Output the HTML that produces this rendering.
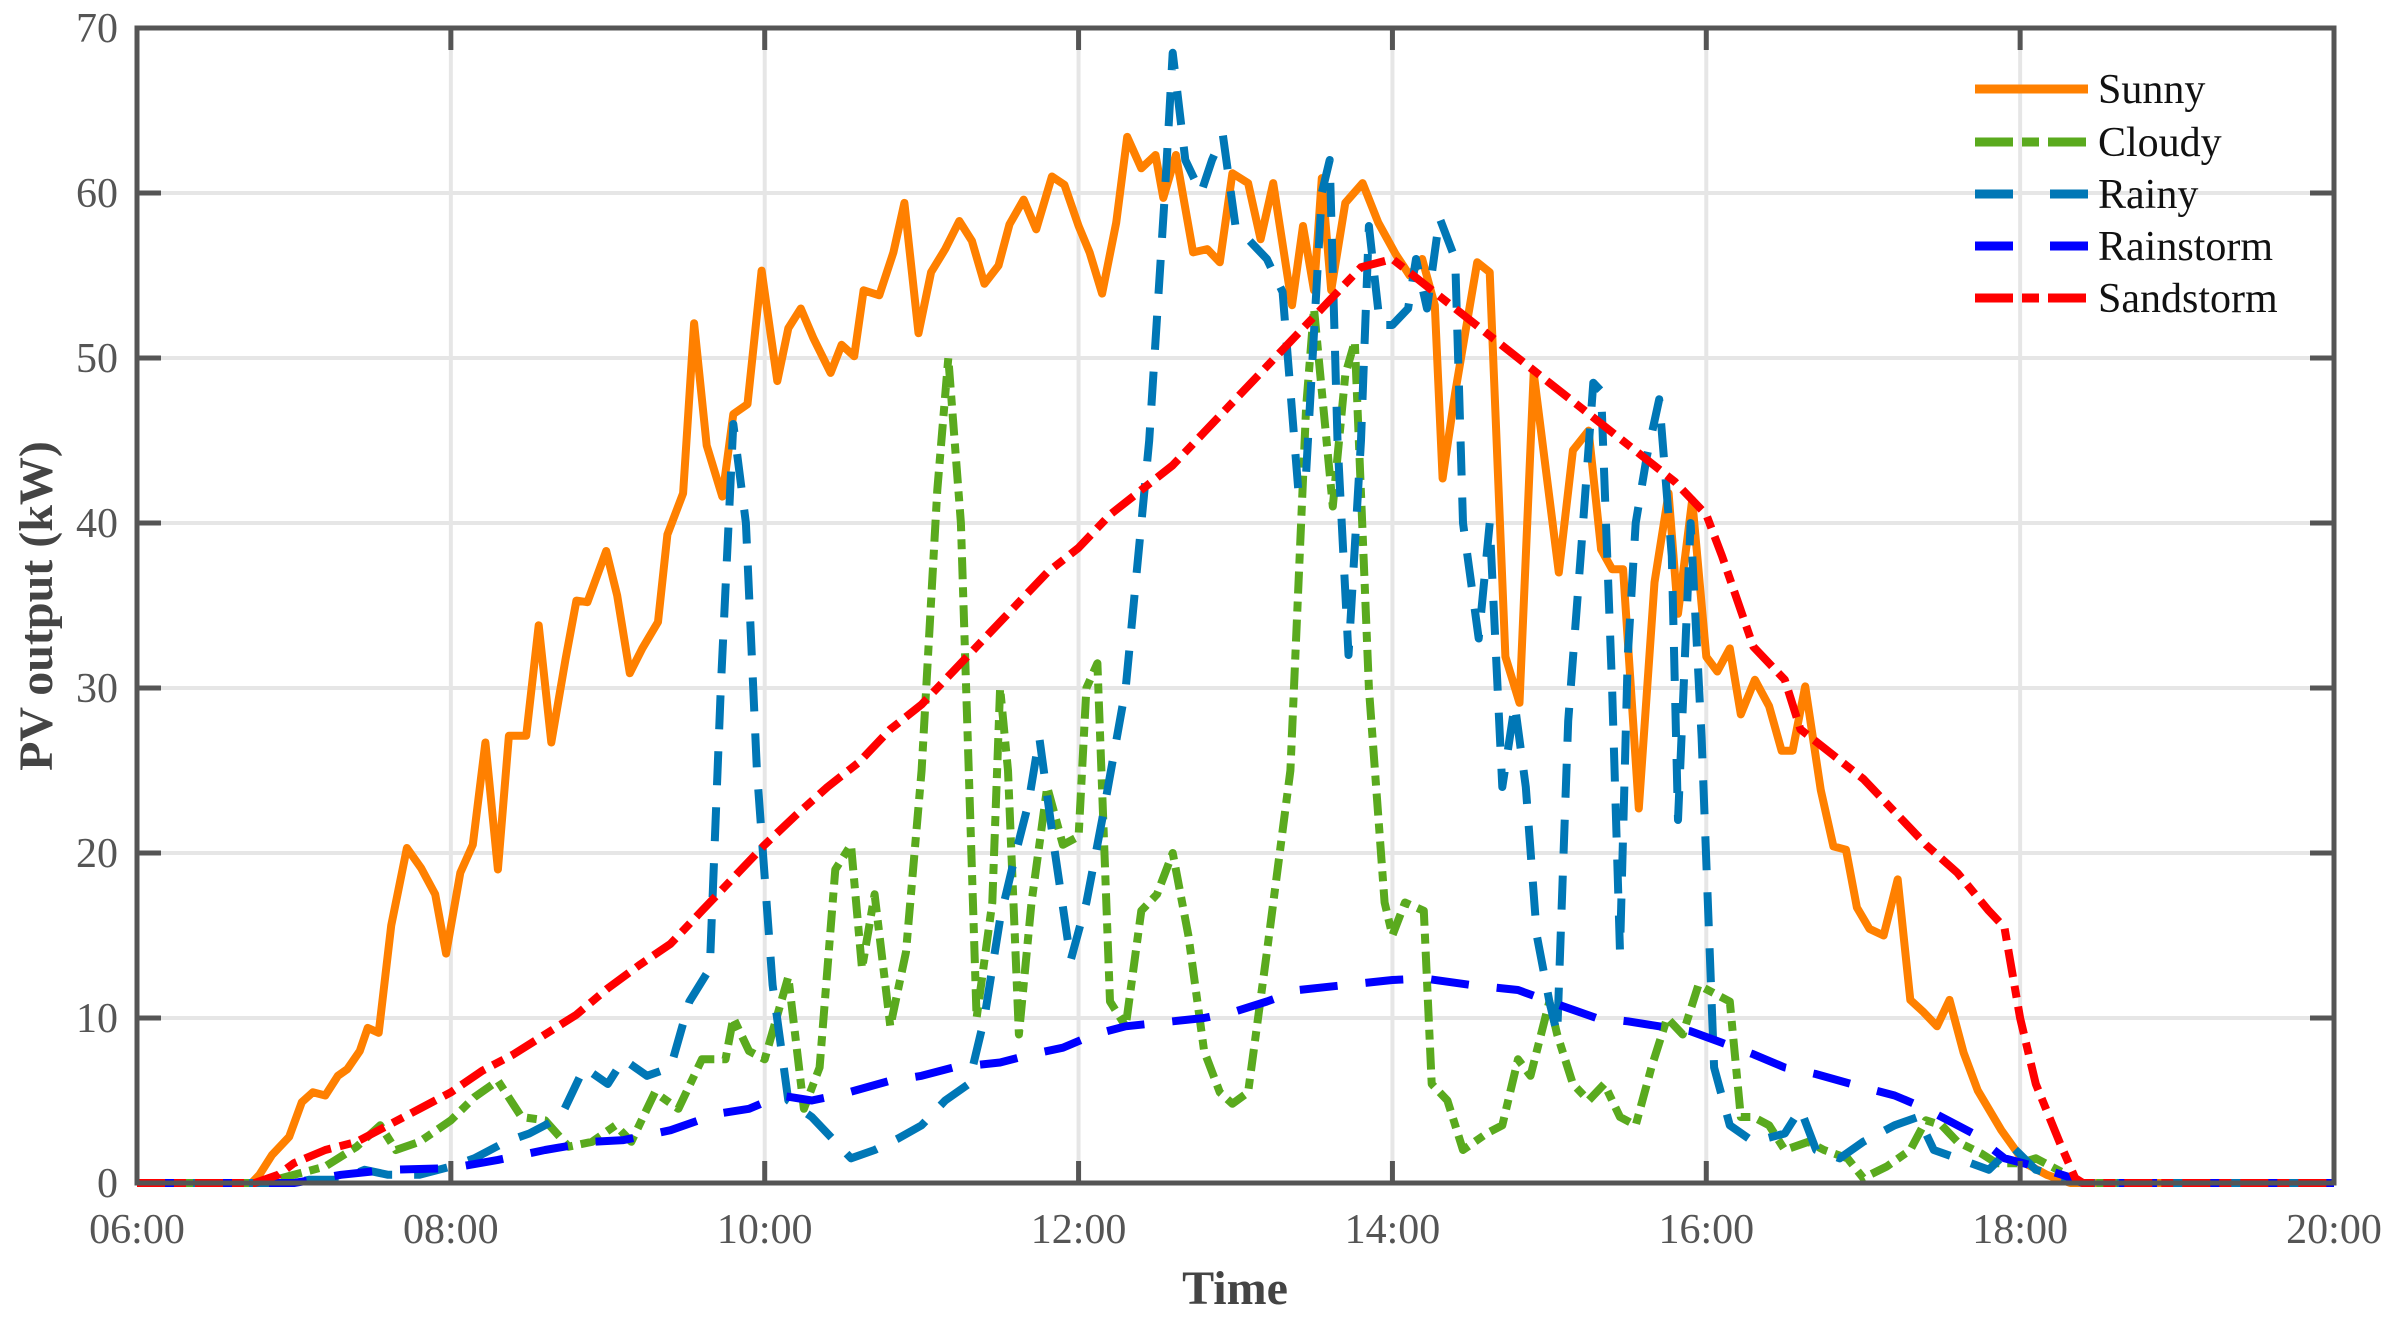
<!DOCTYPE html>
<html><head><meta charset="utf-8"><style>
html,body{margin:0;padding:0;background:#fff;}
svg{display:block;font-family:"Liberation Serif",serif;}
</style></head><body>
<svg id="chart" width="2395" height="1318" viewBox="0 0 2395 1318" xmlns="http://www.w3.org/2000/svg">
<g id="grid"></g>
<g id="series"></g>
<g id="axes"></g>
<text x="0" y="0" transform="translate(52,606) rotate(-90)" text-anchor="middle" font-size="48" font-weight="bold" fill="#444">PV output (kW)</text>
<text x="1235" y="1304" text-anchor="middle" font-size="48" font-weight="bold" fill="#444">Time</text>
<g id="legend"></g>
</svg>
<script>
const xTicks=[6,8,10,12,14,16,18,20];
const xTickLabels=["06:00","08:00","10:00","12:00","14:00","16:00","18:00","20:00"];
const yTicks=[0,10,20,30,40,50,60,70];
const seriesNames=["Sunny","Cloudy","Rainy","Rainstorm","Sandstorm"];
const sunnyT=[6,6.73,6.78,6.86,6.97,7.05,7.12,7.2,7.28,7.34,7.42,7.47,7.54,7.62,7.72,7.81,7.9,7.97,8.06,8.14,8.22,8.3,8.37,8.48,8.56,8.64,8.73,8.8,8.87,8.99,9.06,9.14,9.22,9.32,9.38,9.48,9.55,9.63,9.73,9.8,9.89,9.98,10.08,10.15,10.23,10.31,10.42,10.49,10.57,10.63,10.73,10.82,10.89,10.98,11.06,11.15,11.24,11.32,11.4,11.49,11.56,11.65,11.73,11.83,11.91,12.0,12.07,12.15,12.24,12.31,12.4,12.49,12.54,12.62,12.73,12.82,12.9,12.98,13.08,13.16,13.24,13.3,13.36,13.43,13.5,13.55,13.61,13.7,13.81,13.91,14.02,14.11,14.19,14.27,14.32,14.4,14.46,14.54,14.62,14.72,14.81,14.9,15.06,15.15,15.25,15.33,15.4,15.47,15.57,15.67,15.76,15.82,15.91,16.0,16.07,16.15,16.22,16.31,16.4,16.48,16.55,16.63,16.73,16.81,16.89,16.96,17.04,17.13,17.22,17.3,17.38,17.47,17.55,17.64,17.73,17.88,18.03,18.17,18.32,20];
const sunnyV=[0,0,0.5,1.7,2.8,4.9,5.5,5.3,6.5,6.9,8.0,9.4,9.1,15.6,20.3,19.1,17.5,13.9,18.8,20.5,26.7,19,27.1,27.1,33.8,26.7,31.7,35.3,35.2,38.3,35.6,30.9,32.4,34.0,39.3,41.8,52.1,44.7,41.6,46.6,47.2,55.3,48.6,51.8,53.0,51.2,49.1,50.8,50.1,54.1,53.8,56.4,59.4,51.5,55.2,56.6,58.3,57.1,54.5,55.6,58.1,59.6,57.8,61.0,60.5,58.0,56.4,53.9,58.2,63.4,61.5,62.3,59.7,62.3,56.4,56.6,55.8,61.2,60.6,57.2,60.6,56.9,53.2,58.0,54.1,60.9,54.1,59.4,60.6,58.2,56.3,55.0,56.0,53.2,42.7,47.9,51.3,55.8,55.2,31.9,29.1,49.1,37.0,44.4,45.6,38.4,37.2,37.2,22.7,36.4,41.8,34.5,41.4,31.9,31.0,32.4,28.4,30.5,28.9,26.2,26.2,30.1,23.8,20.4,20.2,16.7,15.4,15.0,18.4,11.1,10.4,9.5,11.1,7.9,5.6,3.2,1.2,0.5,0,0];
const cloudyT=[6,6.8,7.0,7.2,7.4,7.55,7.65,7.8,8.0,8.15,8.3,8.45,8.6,8.75,8.9,9.05,9.15,9.3,9.45,9.6,9.75,9.8,9.9,10.0,10.15,10.25,10.35,10.45,10.55,10.62,10.7,10.8,10.9,11.0,11.1,11.17,11.25,11.35,11.45,11.5,11.55,11.62,11.7,11.8,11.9,12.0,12.05,12.12,12.2,12.3,12.4,12.5,12.6,12.7,12.8,12.9,12.98,13.08,13.2,13.35,13.45,13.5,13.55,13.62,13.7,13.76,13.85,13.95,14.0,14.08,14.2,14.25,14.35,14.45,14.6,14.7,14.8,14.88,15.0,15.05,15.15,15.25,15.35,15.45,15.55,15.65,15.75,15.85,15.95,16.05,16.15,16.22,16.3,16.4,16.5,16.65,16.75,16.9,17.0,17.15,17.3,17.4,17.5,17.6,17.75,17.85,18.0,18.1,18.3,18.4,20];
const cloudyV=[0,0,0.5,1.0,2.2,3.5,2.0,2.5,3.8,5.2,6.2,4,3.8,2.2,2.5,3.5,2.5,5.5,4.5,7.5,7.5,10,8,7.5,12.5,4.5,7,19,20.5,13,17.5,9.5,14,25,42,50,40,10,17,30,25,9,17,24,20.5,21,30,31.5,11,9.5,16.5,17.5,20,15,8,5.5,4.8,5.5,14,25,47,53,48,41,49,51,30,17,15,17,16.5,6,5,2,3,3.5,7.5,6.5,11,9,6,5,6,4,3.5,7,10,9,12,11.5,11,4,4,3.5,2.0,2.5,2,1.5,0.3,1.0,2,3.8,3.5,2.5,1.8,1.2,1.2,1.5,0.5,0,0];
const rainyT=[6,7.0,7.1,7.3,7.45,7.6,7.8,8.0,8.15,8.35,8.5,8.7,8.85,9.0,9.1,9.25,9.4,9.52,9.65,9.72,9.8,9.88,9.95,10.05,10.15,10.3,10.45,10.55,10.7,10.85,11.0,11.15,11.3,11.4,11.5,11.6,11.68,11.75,11.85,11.95,12.05,12.15,12.3,12.45,12.55,12.6,12.68,12.78,12.85,12.92,13.0,13.1,13.2,13.3,13.4,13.45,13.55,13.6,13.65,13.72,13.8,13.85,13.92,14.0,14.1,14.15,14.22,14.3,14.4,14.45,14.55,14.62,14.7,14.78,14.85,14.92,15.0,15.05,15.12,15.2,15.28,15.33,15.4,15.45,15.5,15.55,15.62,15.7,15.78,15.82,15.9,15.97,16.05,16.15,16.3,16.5,16.6,16.7,16.85,17.0,17.2,17.35,17.45,17.6,17.8,17.95,18.1,18.3,18.4,20];
const rainyV=[0,0,0.2,0.2,0.8,0.5,0.5,1.0,1.5,2.5,3,4,7,6,7.5,6.5,7,11,13,30,46,40,25,12,5,4,2.5,1.5,2.0,2.7,3.5,5,6,10,16,20,23,27,20,13.5,17,22,30,45,60,68.5,62,60,62,63.5,58,57,56,54,42,43,60,62,45,32,45,58,52,52,53,56,53,58.5,56,40,33,40,24,29,24,15,11,9,28,38,48.5,48,30,14,32,40,44,47.5,38,22,40,27,7,3.5,2.5,3,4.5,2,1.5,2.5,3.5,4,2,1.5,0.8,2.2,0.8,0.3,0,0];
const rainstormT=[6,7.0,7.3,7.6,8.0,8.3,8.6,8.9,9.1,9.4,9.7,9.9,10.1,10.3,10.5,10.8,11.0,11.2,11.5,11.7,11.9,12.1,12.3,12.6,12.8,13.0,13.2,13.4,13.7,14.0,14.2,14.5,14.8,15.0,15.3,15.5,15.7,15.9,16.1,16.3,16.5,16.7,17.0,17.2,17.4,17.5,17.7,17.9,18.1,18.3,18.4,20];
const rainstormV=[0,0,0.5,0.8,0.9,1.4,2,2.5,2.6,3.2,4.2,4.5,5.3,5.0,5.4,6.2,6.5,7.0,7.3,7.8,8.2,9,9.5,9.8,10,10.4,11,11.7,12,12.3,12.4,12,11.7,11,10,9.8,9.5,9.2,8.5,7.8,7,6.6,5.8,5.3,4.5,4.0,3.0,1.5,1.0,0.4,0,0];
const sandT=[6,6.75,6.9,7.0,7.2,7.4,7.6,7.8,8.0,8.2,8.4,8.6,8.8,9.0,9.2,9.4,9.6,9.8,10.0,10.2,10.4,10.6,10.8,11.0,11.2,11.4,11.6,11.8,12.0,12.2,12.4,12.6,12.8,13.0,13.2,13.4,13.6,13.8,14.0,14.2,14.4,14.6,14.8,15.0,15.2,15.4,15.6,15.8,16.0,16.1,16.3,16.5,16.6,16.8,17.0,17.2,17.4,17.6,17.8,17.9,18.0,18.1,18.25,18.35,18.4,20];
const sandV=[0,0,0.5,1.2,2.0,2.5,3.5,4.5,5.5,6.8,7.8,9,10.2,11.8,13.2,14.5,16.5,18.5,20.5,22.3,24,25.5,27.5,29,31,33,35,37,38.5,40.5,42,43.5,45.5,47.5,49.5,51.5,53.5,55.5,56,54.5,53,51.5,50,48.5,47,45.5,44,42.5,40.5,38,32.5,30.5,27.5,26,24.5,22.5,20.5,18.8,16.5,15.5,10,6,2.5,0.3,0,0];

const NS="http://www.w3.org/2000/svg";
const L=137,R=2334,T=28,B=1183;
const xs=t=>L+(t-6)/14*(R-L);
const ys=v=>B-v/70*(B-T);
function mk(tag,parent,attrs){const e=document.createElementNS(NS,tag);for(const k in attrs)e.setAttribute(k,attrs[k]);parent.appendChild(e);return e;}
const grid=document.getElementById('grid'),axes=document.getElementById('axes'),ser=document.getElementById('series'),leg=document.getElementById('legend');
xTicks.forEach((t,i)=>{
  const g=mk('line',grid,{x1:xs(t),x2:xs(t),y1:T,y2:B,stroke:'#e6e6e6','stroke-width':4});
  
  
  const a=mk('line',axes,{x1:xs(t),x2:xs(t),y1:B,y2:B-22,stroke:'#555','stroke-width':5});
  
  
  const b=mk('line',axes,{x1:xs(t),x2:xs(t),y1:T,y2:T+22,stroke:'#555','stroke-width':5});
  
  
  const tx=mk('text',axes,{x:xs(t),y:1243,'text-anchor':'middle','font-size':42,fill:'#555'});
  tx.textContent=xTickLabels[i];
  
  
});
yTicks.forEach(v=>{
  const g=mk('line',grid,{x1:L,x2:R,y1:ys(v),y2:ys(v),stroke:'#e6e6e6','stroke-width':4});
  
  
  const a=mk('line',axes,{x1:L,x2:L+24,y1:ys(v),y2:ys(v),stroke:'#555','stroke-width':5});
  
  
  const b=mk('line',axes,{x1:R,x2:R-24,y1:ys(v),y2:ys(v),stroke:'#555','stroke-width':5});
  
  
  const tx=mk('text',axes,{x:118,y:ys(v)+14,'text-anchor':'end','font-size':42,fill:'#555'});
  tx.textContent=String(v);
  
  
});
const frame=mk('rect',axes,{x:L,y:T,width:R-L,height:B-T,fill:'none',stroke:'#555','stroke-width':5});



const colors=["#ff8000","#5aaa1e","#0077b6","#0000ff","#ff0000"];
const dashes=["none","38 9 17 9","38 37","38 37","38 9 17 9"];
const plotDash=["none","22 8 10 8","34 22","38 28","28 9 12 9"];
const data=[[sunnyT,sunnyV],[cloudyT,cloudyV],[rainyT,rainyV],[rainstormT,rainstormV],[sandT,sandV]];
const lineNames=['sunny-line','cloudy-line','rainy-line','rainstorm-line','sandstorm-line'];
data.forEach((d,i)=>{
  const pts=d[0].map((t,j)=>xs(t).toFixed(1)+','+ys(d[1][j]).toFixed(1)).join(' ');
  const p=mk('polyline',ser,{points:pts,fill:'none',stroke:colors[i],'stroke-width':8,'stroke-linejoin':'round','stroke-dasharray':plotDash[i]});
  
  
});
const legY=[89,142,194,246,298];
seriesNames.forEach((n,i)=>{
  const ln=mk('line',leg,{x1:1975,x2:2088,y1:legY[i],y2:legY[i],stroke:colors[i],'stroke-width':9,'stroke-dasharray':dashes[i]});
  
  
  const tx=mk('text',leg,{x:2098,y:legY[i]+14,'font-size':42,fill:'#111'});
  tx.textContent=n;
  
  
});
</script>
</body></html>
